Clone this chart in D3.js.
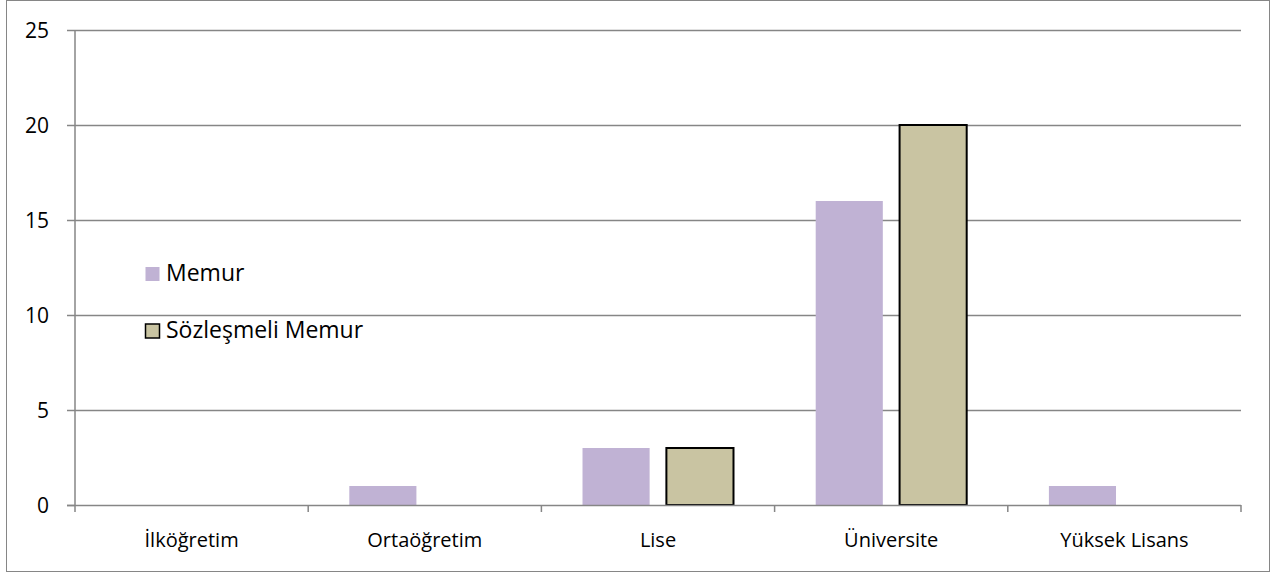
<!DOCTYPE html>
<html>
<head>
<meta charset="utf-8">
<script src="https://cdn.jsdelivr.net/npm/d3@7"></script>
<style>
  body { margin: 0; background: #fff; }
  text { font-family: "Open Sans", "Liberation Sans", sans-serif; fill: #000; }
</style>
</head>
<body>
<div id="chart"></div>
<script>
const categories = ["İlköğretim", "Ortaöğretim", "Lise", "Üniversite", "Yüksek Lisans"];
const seriesNames = ["Memur", "Sözleşmeli Memur"];
const memur = [0, 1, 3, 16, 1];
const sozlesmeli = [0, 0, 3, 20, 0];
const yTicks = [0, 5, 10, 15, 20, 25];

const colors = ["#c0b2d4", "#c9c4a2"];
const strokes = ["none", "#000"];

const svg = d3.select("#chart").append("svg")
    .attr("width", 1280)
    .attr("height", 573);

// outer frame
svg.append("rect")
    .attr("x", 6.5).attr("y", 0.5)
    .attr("width", 1263).attr("height", 571)
    .attr("fill", "#fff")
    .attr("stroke", "#868686");

const plotLeft = 75, plotRight = 1241, plotTop = 30, plotBottom = 505;

const x = d3.scaleBand()
    .domain(categories)
    .range([plotLeft, plotRight]);

const x1 = d3.scaleBand()
    .domain(seriesNames)
    .range([0, x.bandwidth()])
    .paddingInner(0.2)
    .paddingOuter(0.49);

const y = d3.scaleLinear()
    .domain([0, 25])
    .range([plotBottom, plotTop]);

// gridlines
svg.append("g")
    .selectAll("line")
    .data(yTicks.filter(d => d > 0))
    .join("line")
    .attr("x1", plotLeft).attr("x2", plotRight)
    .attr("y1", d => Math.round(y(d)) + 0.5)
    .attr("y2", d => Math.round(y(d)) + 0.5)
    .attr("stroke", "#868686")
    .attr("stroke-width", 1.5);

// y axis
const yAxis = svg.append("g")
    .attr("transform", "translate(" + plotLeft + ",0)")
    .call(d3.axisLeft(y).tickValues(yTicks).tickSize(8).tickPadding(18));
yAxis.selectAll("line").attr("stroke", "#868686").attr("stroke-width", 1.5);
yAxis.select(".domain").attr("stroke", "#868686").attr("stroke-width", 1.5).attr("d", "M0," + plotBottom + "V" + plotTop);
yAxis.selectAll("text").style("font-size", "21px").attr("dy", "0.36em");

// bars
const data = [];
categories.forEach((c, i) => {
    data.push({ cat: c, series: seriesNames[0], value: memur[i], s: 0 });
    data.push({ cat: c, series: seriesNames[1], value: sozlesmeli[i], s: 1 });
});

svg.append("g")
    .selectAll("rect")
    .data(data.filter(d => d.value > 0))
    .join("rect")
    .attr("x", d => x(d.cat) + x1(d.series))
    .attr("y", d => y(d.value))
    .attr("width", x1.bandwidth())
    .attr("height", d => y(0) - y(d.value))
    .attr("fill", d => colors[d.s])
    .attr("stroke", d => strokes[d.s])
    .attr("stroke-width", 2);

// x axis
const xAxis = svg.append("g")
    .attr("transform", "translate(0," + plotBottom + ")")
    .call(d3.axisBottom(x).tickSize(0));
xAxis.select(".domain").remove();
xAxis.selectAll("text").style("font-size", "20px").attr("y", 42).attr("dy", 0);

const xTickPos = categories.map(c => x(c)).concat([plotRight]);
svg.append("g")
    .selectAll("line")
    .data(xTickPos)
    .join("line")
    .attr("x1", d => d).attr("x2", d => d)
    .attr("y1", plotBottom).attr("y2", plotBottom + 7)
    .attr("stroke", "#868686")
    .attr("stroke-width", 1.5);
svg.append("line")
    .attr("x1", plotLeft - 8).attr("x2", plotRight)
    .attr("y1", plotBottom + 0.5).attr("y2", plotBottom + 0.5)
    .attr("stroke", "#868686")
    .attr("stroke-width", 1.5);

// legend
const legend = svg.append("g");
const legendY = [267, 324];
seriesNames.forEach((name, i) => {
    legend.append("rect")
        .attr("x", 145.5).attr("y", legendY[i])
        .attr("width", 14).attr("height", 14)
        .attr("fill", colors[i])
        .attr("stroke", strokes[i])
        .attr("stroke-width", 1.5);
    legend.append("text")
        .attr("x", 166).attr("y", legendY[i] + 14)
        .style("font-size", "23px")
        .text(name);
});
</script>
</body>
</html>
